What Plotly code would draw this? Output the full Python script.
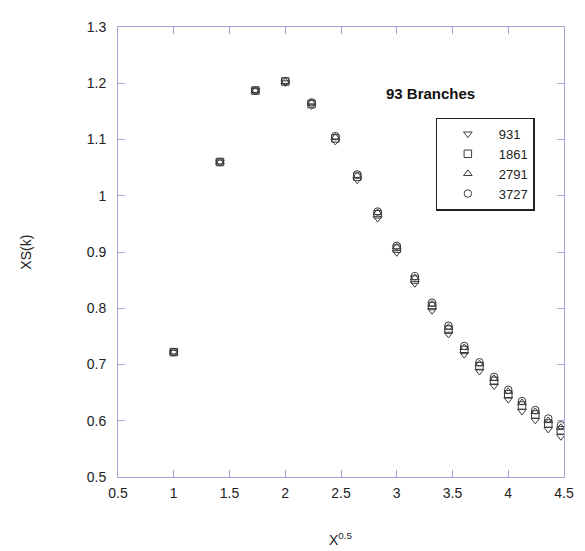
import plotly.graph_objects as go

k_vals = list(range(1, 21))
x_vals = [k ** 0.5 for k in k_vals]

y_931 = [0.722, 1.060, 1.187, 1.201, 1.160, 1.097, 1.028, 0.960, 0.899, 0.844,
         0.796, 0.754, 0.718, 0.688, 0.662, 0.638, 0.617, 0.601, 0.585, 0.572]
y_1861 = [0.722, 1.060, 1.187, 1.203, 1.163, 1.102, 1.034, 0.967, 0.906, 0.851,
          0.804, 0.762, 0.726, 0.697, 0.671, 0.647, 0.627, 0.611, 0.595, 0.583]
y_2791 = [0.722, 1.060, 1.187, 1.203, 1.165, 1.104, 1.036, 0.970, 0.909, 0.854,
          0.807, 0.766, 0.730, 0.701, 0.675, 0.652, 0.632, 0.616, 0.600, 0.588]
y_3727 = [0.722, 1.060, 1.187, 1.204, 1.166, 1.106, 1.038, 0.972, 0.911, 0.857,
          0.810, 0.769, 0.733, 0.704, 0.678, 0.655, 0.635, 0.619, 0.604, 0.592]

series_names = ["931", "1861", "2791", "3727"]
series_vals = [y_931, y_1861, y_2791, y_3727]
symbols = ["triangle-down-open", "square-open", "triangle-up-open", "circle-open"]

x_ticks = [0.5, 1, 1.5, 2, 2.5, 3, 3.5, 4, 4.5]
x_labels = ["0.5", "1", "1.5", "2", "2.5", "3", "3.5", "4", "4.5"]
y_ticks = [0.5, 0.6, 0.7, 0.8, 0.9, 1.0, 1.1, 1.2, 1.3]
y_labels = ["0.5", "0.6", "0.7", "0.8", "0.9", "1", "1.1", "1.2", "1.3"]

fig = go.Figure()
for name, vals, sym in zip(series_names, series_vals, symbols):
    fig.add_trace(go.Scatter(
        x=x_vals, y=vals, mode="markers", name=name,
        marker=dict(symbol=sym, size=7.5, color="#3a3a3a", line=dict(width=1, color="#3a3a3a")),
    ))

axcol = "#a3a3d6"
font = "Arial, Liberation Sans, sans-serif"
# page body has an 8px default margin, so the figure is sized/offset to compensate
fig.update_layout(
    width=577, height=543,
    margin=dict(l=109.5, r=11, t=13, b=74),
    paper_bgcolor="white", plot_bgcolor="white",
    font=dict(family=font, size=14, color="#222"),
    showlegend=True,
    legend=dict(x=0.712, y=0.592, xanchor="left", yanchor="bottom",
                bordercolor="#222", borderwidth=1.3, bgcolor="white",
                font=dict(size=13, family=font, color="#222"),
                itemwidth=52, tracegroupgap=0),
    xaxis=dict(range=[0.5, 4.5], tickvals=x_ticks, ticktext=x_labels,
               showgrid=False, zeroline=False, showline=True, linecolor=axcol, linewidth=1,
               mirror="ticks", ticks="inside", ticklen=7, tickcolor=axcol, tickwidth=1,
               tickfont=dict(size=14), ticklabelstandoff=3),
    yaxis=dict(range=[0.5, 1.3], tickvals=y_ticks, ticktext=y_labels,
               showgrid=False, zeroline=False, showline=True, linecolor=axcol, linewidth=1,
               mirror="ticks", ticks="inside", ticklen=7, tickcolor=axcol, tickwidth=1,
               tickfont=dict(size=14), ticklabelstandoff=8),
    annotations=[
        dict(text="<b>93 Branches</b>", xref="paper", yref="paper", x=0.70, y=0.853,
             xanchor="center", yanchor="middle",
             showarrow=False, font=dict(size=15, family=font, color="#111")),
        dict(text="XS(k)", xref="paper", yref="paper", x=-0.207, y=0.5, textangle=-90,
             xanchor="center", yanchor="middle",
             showarrow=False, font=dict(size=14, family=font, color="#222")),
        dict(text="X<sup>0.5</sup>", xref="paper", yref="paper", x=0.5, y=-0.138,
             xanchor="center", yanchor="middle", showarrow=False,
             font=dict(size=14, family=font, color="#222")),
    ],
)
fig.write_html("out.html")
